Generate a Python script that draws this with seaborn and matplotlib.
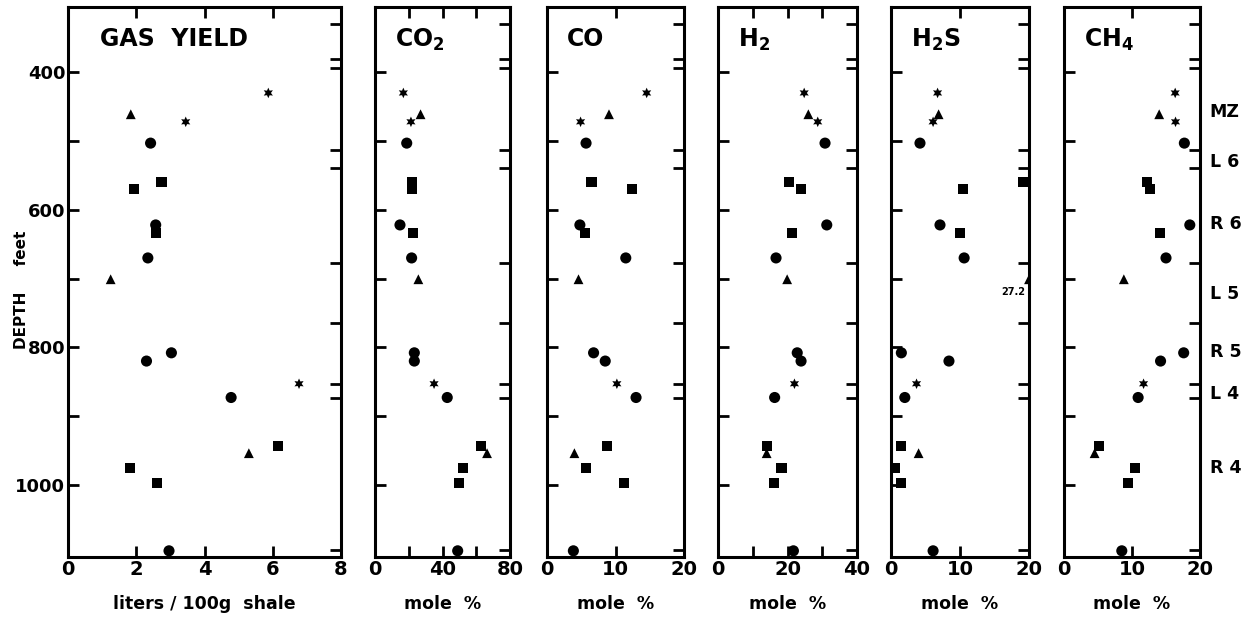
import numpy as np
import pandas as pd
import matplotlib
matplotlib.use("Agg")
import matplotlib.pyplot as plt
import seaborn as sns

# sample depths (feet) and marker kind for each sample
depth = [430, 461, 472, 503, 559, 570, 622, 634, 670, 701,
         808, 820, 853, 873, 944, 954, 976, 997, 1096]
kind = ["star", "tri", "star", "circle", "square", "square", "circle", "square", "circle", "tri",
        "circle", "circle", "star", "circle", "square", "tri", "square", "square", "circle"]

gas_yield = [5.87, 1.84, 3.45, 2.42, 2.74, 1.93, 2.57, 2.57, 2.34, 1.25,
             3.03, 2.30, 6.77, 4.78, 6.16, 5.30, 1.82, 2.60, 2.96]
co2 = [16.8, 27.0, 21.3, 18.8, 21.7, 21.7, 14.8, 22.7, 21.7, 25.7,
       23.3, 23.3, 35.0, 42.8, 62.8, 66.4, 52.3, 50.0, 49.0]
co = [14.55, 9.05, 4.9, 5.7, 6.5, 12.4, 4.8, 5.5, 11.5, 4.6,
      6.8, 8.5, 10.2, 13.0, 8.8, 4.0, 5.7, 11.2, 3.85]
h2 = [24.8, 26.0, 28.7, 30.8, 20.5, 23.8, 31.3, 21.2, 16.7, 19.9,
      22.8, 23.9, 22.0, 16.3, 14.0, 14.0, 18.3, 16.1, 21.7]
h2s = [6.75, 6.9, 6.1, 4.2, 19.2, 10.4, 7.1, 10.0, 10.6, 27.2,
       1.5, 8.4, 3.7, 2.0, 1.4, 4.0, 0.6, 1.5, 6.1]
ch4 = [16.35, 14.0, 16.4, 17.7, 12.2, 12.6, 18.5, 14.1, 15.0, 8.8,
       17.6, 14.2, 11.7, 10.9, 5.2, 4.5, 10.4, 9.4, 8.5]

# stratigraphic zones shown on the right
zone_bounds = [330, 380, 394, 513, 539, 678, 764, 854, 874, 1095]
zone_names = ["MZ", "L 6", "R 6", "L 5", "R 5", "L 4", "R 4"]
zone_depth = [455, 528, 618, 720, 804, 865, 973]

df = pd.DataFrame({"depth": depth, "kind": kind, "gas": gas_yield, "co2": co2,
                   "co": co, "h2": h2, "h2s": h2s, "ch4": ch4})
# off-scale H2S value is drawn at the panel edge and annotated
df["h2s_plot"] = df["h2s"].clip(upper=20)

MARKERS = {"circle": "o", "square": "s", "tri": "^", "star": (6, 1, 0)}
SIZES = {"circle": 64, "square": 54, "tri": 50, "star": 58}

sns.set_theme(style="white")
plt.rcParams["font.family"] = ["DejaVu Sans"]
plt.rcParams["font.weight"] = "bold"
plt.rcParams["mathtext.default"] = "bf"
for key in ["text.color", "axes.labelcolor", "xtick.color", "ytick.color"]:
    plt.rcParams[key] = "black"

W, H = 1250, 618
fig = plt.figure(figsize=(12.5, 6.18), dpi=100)

panels = [
    ("gas", "GAS  YIELD", (0, 8), [0, 2, 4, 6, 8], [], "liters / 100g  shale", 68, 341),
    ("co2", "CO$_2$", (0, 80), [0, 40, 80], [20, 60], "mole  %", 375, 510),
    ("co", "CO", (0, 20), [0, 10, 20], [], "mole  %", 547, 684),
    ("h2", "H$_2$", (0, 40), [0, 20, 40], [10, 30], "mole  %", 718, 857),
    ("h2s_plot", "H$_2$S", (0, 20), [0, 10, 20], [], "mole  %", 891, 1029),
    ("ch4", "CH$_4$", (0, 20), [0, 10, 20], [], "mole  %", 1064, 1200),
]

y_top, y_bot = 7, 557
axes = []
for i, (col, title, xlim, majors, minors, xlabel, x0, x1) in enumerate(panels):
    ax = fig.add_axes([x0 / W, 1 - y_bot / H, (x1 - x0) / W, (y_bot - y_top) / H])
    sns.scatterplot(data=df, x=col, y="depth", style="kind", markers=MARKERS,
                    size="kind", sizes=SIZES, color="black", linewidth=0,
                    legend=False, ax=ax)
    ax.set_xlim(*xlim)
    ax.set_ylim(1105, 305)
    ax.set_xticks(majors)
    ax.set_xticks(minors, minor=True)
    ax.set_xticklabels([str(v) for v in majors], fontsize=14, fontweight="bold")
    ax.set_yticks([400, 600, 800, 1000])
    ax.set_yticks([500, 700, 900], minor=True)
    if i == 0:
        ax.set_yticklabels(["400", "600", "800", "1000"], fontsize=13, fontweight="bold")
    else:
        ax.set_yticklabels([])
    ax.tick_params(axis="both", which="both", direction="in", length=8, width=2,
                   color="black", top=True, bottom=True, left=True, right=False,
                   pad=2)
    for s in ax.spines.values():
        s.set_visible(True)
        s.set_linewidth(2.2)
        s.set_color("black")
    ax.set_xlabel(xlabel, fontsize=12.5, fontweight="bold", labelpad=12)
    ax.set_ylabel("")
    ax.annotate(title, xy=(0, 1), xycoords="axes fraction",
                xytext=(32 if i == 0 else 20, -20), textcoords="offset pixels",
                ha="left", va="top", fontsize=17, fontweight="bold")

    # zone boundary ticks on the right side
    ax2 = ax.twinx()
    ax2.set_ylim(ax.get_ylim())
    ax2.set_yticks(zone_bounds)
    ax2.set_yticklabels([])
    ax2.tick_params(axis="y", which="major", direction="in", length=8, width=2,
                    color="black", right=True, left=False)
    ax2.grid(False)
    for s in ax2.spines.values():
        s.set_visible(False)
    if i == len(panels) - 1:
        ax2.set_yticks(zone_depth, minor=True)
        ax2.set_yticklabels(zone_names, minor=True, fontsize=12.5, fontweight="bold")
        ax2.tick_params(axis="y", which="minor", length=0, pad=7, right=True)
    axes.append(ax)

# off-scale H2S value
h2s_ax = axes[4]
off = df[df["h2s"] > 20].iloc[0]
h2s_ax.annotate(f"{off['h2s']:.1f}", xy=(20, off["depth"]), xytext=(-3, -9),
                textcoords="offset points", ha="right", va="center",
                fontsize=7, fontweight="bold")

fig.text(22 / W, 1 - 290 / H, "DEPTH     feet", rotation=90, ha="center", va="center",
         fontsize=11, fontweight="bold")

fig.savefig("out.png", dpi=100)
